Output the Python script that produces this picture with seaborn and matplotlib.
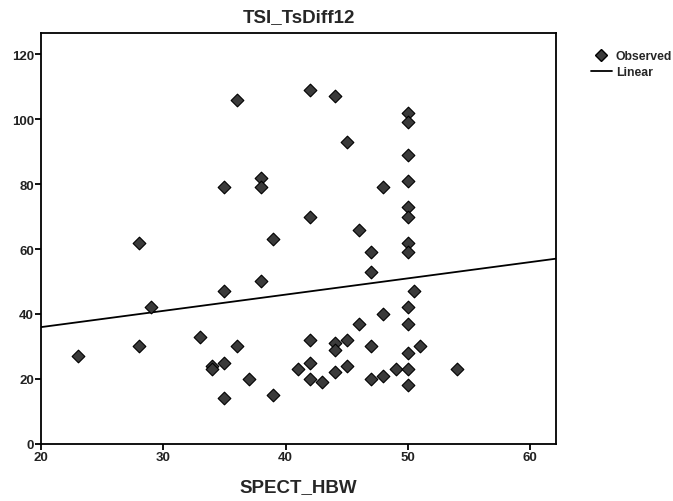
import matplotlib
matplotlib.use("Agg")
import matplotlib.pyplot as plt
from matplotlib.lines import Line2D
import seaborn as sns
import pandas as pd

# Data
spect_hbw = [23, 28, 28, 29, 33, 34, 34, 35, 35, 35, 35, 36, 36, 37, 38, 38, 38,
             39, 39, 41, 42, 42, 42, 42, 42, 43, 44, 44, 44, 44, 45, 45, 45, 46,
             46, 47, 47, 47, 47, 48, 48, 48, 49, 50, 50, 50, 50, 50, 50, 50, 50,
             50.5, 50, 50, 50, 50, 50, 51, 54]
tsi_tsdiff12 = [27, 62, 30, 42, 33, 24, 23, 79, 47, 25, 14, 106, 30, 20, 82, 79, 50,
                63, 15, 23, 109, 70, 32, 25, 20, 19, 107, 31, 29, 22, 93, 32, 24, 66,
                37, 59, 53, 30, 20, 79, 40, 21, 23, 102, 99, 89, 81, 73, 70, 62, 59,
                47, 42, 37, 28, 23, 18, 30, 23]
x_ticks = [20, 30, 40, 50, 60]
y_ticks = [0, 20, 40, 60, 80, 100, 120]

df = pd.DataFrame({"SPECT_HBW": spect_hbw, "TSI_TsDiff12": tsi_tsdiff12})

sns.set_style("white")
plt.rcParams["font.family"] = ["Liberation Sans", "DejaVu Sans"]

fig = plt.figure(figsize=(6.73, 5.02), dpi=100)
ax = fig.add_axes([0.061, 0.114, 0.765, 0.818])
ax.set_xlim(20, 62.1)
ax.set_ylim(0, 126.5)

sns.regplot(data=df, x="SPECT_HBW", y="TSI_TsDiff12", scatter=False, ci=None,
            truncate=False, color="black", line_kws={"linewidth": 1.3}, ax=ax)
sns.scatterplot(data=df, x="SPECT_HBW", y="TSI_TsDiff12", marker="D", s=42,
                color="#3a3a3a", edgecolor="black", linewidth=0.8, ax=ax, zorder=3)

ax.set_xlim(20, 62.1)
ax.set_ylim(0, 126.5)
ax.set_xticks(x_ticks)
ax.set_yticks(y_ticks)
ax.tick_params(axis="both", direction="out", length=4, width=1.3, color="black",
               labelsize=9.5, pad=1, bottom=True, left=True)
for lab in ax.get_xticklabels() + ax.get_yticklabels():
    lab.set_fontweight("bold")
    lab.set_color("#222222")
for sp in ax.spines.values():
    sp.set_visible(True)
    sp.set_color("black")
    sp.set_linewidth(1.3)

ax.set_title("TSI_TsDiff12", fontsize=13.5, fontweight="bold", pad=9)
ax.set_xlabel("SPECT_HBW", fontsize=13.5, fontweight="bold", labelpad=11)
ax.set_ylabel("")

handles = [Line2D([0], [0], marker="D", color="none", markerfacecolor="#3a3a3a",
                  markeredgecolor="black", markersize=6.5),
           Line2D([0], [0], color="black", linewidth=1.3)]
fig.legend(handles, ["Observed", "Linear"], loc="upper left",
           bbox_to_anchor=(0.878, 0.898), frameon=False,
           handlelength=1.7, handletextpad=0.35, labelspacing=0.3,
           borderaxespad=0, borderpad=0, prop={"weight": "bold", "size": 8.8})

fig.savefig("out.png", dpi=100)
